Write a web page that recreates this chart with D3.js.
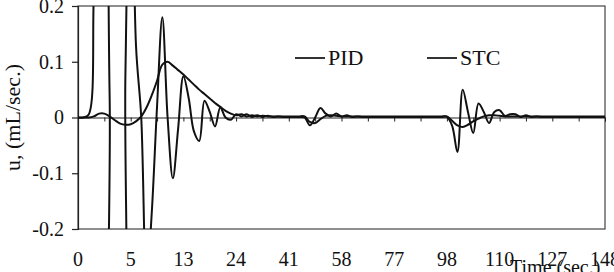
<!DOCTYPE html>
<html>
<head>
<meta charset="utf-8">
<script src="https://cdn.jsdelivr.net/npm/d3@7"></script>
<style>
  body { margin: 0; background: #fff; }
  text { font-family: "Liberation Serif", "DejaVu Serif", serif; fill: #111; }
</style>
</head>
<body>
<div id="chart"></div>
<script>
// tick labels on the category axis (time, sec.)
const timeLabels = ["0", "5", "13", "24", "41", "58", "77", "98", "110", "127", "148"];

// control signal (101 samples)
const pid = [
  0, 0, 0, 0.002, 0.007, 0.007, 0.002, -0.005, -0.011, -0.013,
  -0.012, -0.007, 0.002, 0.018, 0.04, 0.066, 0.095, 0.1, 0.093, 0.085,
  0.077, 0.068, 0.059, 0.05, 0.042, 0.034, 0.026, 0.019, 0.012, 0.007,
  0.004, 0.006, 0.002, 0.004, 0.002, 0.003, 0.002, 0.002, 0.002, 0.002,
  0.002, 0.002, 0.002, 0.002, -0.008, -0.01, -0.003, 0.003, 0.004, 0.003,
  0.002, 0.002, 0.002, 0.002, 0.002, 0.002, 0.002, 0.002, 0.002, 0.002,
  0.002, 0.002, 0.002, 0.002, 0.002, 0.002, 0.002, 0.002, 0.002, 0.002,
  0.002, -0.006, -0.014, -0.017, -0.013, -0.007, -0.002, 0.002, 0.004, 0.004,
  0.003, 0.002, 0.002, 0.002, 0.002, 0.002, 0.002, 0.002, 0.002, 0.002,
  0.002, 0.002, 0.002, 0.002, 0.002, 0.002, 0.002, 0.002, 0.002, 0.002,
  0.002
];

const stc = [
  0, 0, 0.005, 0.22, 0.5, 0.56, 0.04, -0.5, -0.5, 0.08,
  0.6, 0.13, 0, -0.3, -0.17, 0.02, 0.18, 0, -0.109, -0.02,
  0.074, 0.035, -0.025, -0.042, 0.03, 0.01, -0.016, 0.018, 0, -0.004,
  0.006, 0.002, 0.006, 0.001, 0.004, 0.001, 0.003, 0.001, 0.002, 0.001,
  0.001, 0.001, 0.001, 0, -0.014, 0, 0.017, 0.007, 0.002, 0.007,
  0.002, 0.004, 0.001, 0.002, 0.001, 0.001, 0.001, 0.001, 0.001, 0.001,
  0.001, 0.001, 0.001, 0.001, 0.001, 0.001, 0.001, 0.001, 0.001, 0.001,
  0.001, -0.015, -0.062, 0.05, 0.01, -0.028, 0.025, 0.01, -0.01, 0.01,
  0.013, 0.003, 0.006, 0.006, 0.001, 0.004, 0.001, 0.002, 0.001, 0.001,
  0.001, 0.001, 0.001, 0.001, 0.001, 0.001, 0.001, 0.001, 0.001, 0.001,
  0.001
];

const yTicks = [-0.2, -0.1, 0, 0.1, 0.2];

const width = 614, height = 272;
const margin = { top: 6, right: 9, bottom: 43, left: 78 };
const plotW = width - margin.left - margin.right,
      plotH = height - margin.top - margin.bottom;

const svg = d3.select("#chart")
    .append("svg")
    .attr("width", width)
    .attr("height", height);

const g = svg.append("g")
    .attr("transform", "translate(" + margin.left + "," + margin.top + ")");

const n = pid.length;
const x = d3.scaleLinear().domain([0, n - 1]).range([0, plotW]);
const y = d3.scaleLinear().domain([-0.2, 0.2]).range([plotH, 0]);

// clip lines to plot area
g.append("clipPath").attr("id", "clip")
    .append("rect").attr("width", plotW).attr("height", plotH);

// plot frame
g.append("rect")
    .attr("width", plotW)
    .attr("height", plotH)
    .attr("fill", "none")
    .attr("stroke", "#444")
    .attr("stroke-width", 1.2);

// y axis (plain hyphen for negatives, like the original)
const yAxis = g.append("g")
    .call(d3.axisLeft(y).tickValues(yTicks).tickSize(6).tickPadding(8)
        .tickFormat(d => d === 0 ? "0" : d.toFixed(1)));
yAxis.select(".domain").attr("stroke", "#222").attr("stroke-width", 1.2);
yAxis.selectAll(".tick line").attr("stroke", "#222").attr("stroke-width", 1.2);
yAxis.selectAll("text").style("font-size", "20px").attr("fill", "#111");

// x axis on the zero line, ticks every 5 samples
const xAxis = g.append("g")
    .attr("transform", "translate(0," + y(0) + ")")
    .call(d3.axisBottom(x).tickValues(d3.range(0, n, 5)).tickSize(4).tickFormat(""));
xAxis.select(".domain").attr("stroke", "#222");
xAxis.selectAll(".tick line").attr("stroke", "#222");

// category labels at the bottom, every 10 samples
g.append("g")
    .selectAll("text")
    .data(timeLabels)
    .enter().append("text")
    .attr("x", (d, i) => x(i * 10))
    .attr("y", plotH + 37)
    .attr("text-anchor", "middle")
    .style("font-size", "20px")
    .text(d => d);

const line = d3.line()
    .x((d, i) => x(i))
    .y(d => y(d))
    .curve(d3.curveCatmullRom.alpha(0.5));

const lines = g.append("g").attr("clip-path", "url(#clip)");
[pid, stc].forEach(series => {
    lines.append("path")
        .datum(series)
        .attr("fill", "none")
        .attr("stroke", "#111")
        .attr("stroke-width", 2)
        .attr("d", line);
});

// legend
const legend = [{ name: "PID", x: 217 }, { name: "STC", x: 349 }];
const lg = g.selectAll(".legend")
    .data(legend)
    .enter().append("g")
    .attr("class", "legend")
    .attr("transform", d => "translate(" + d.x + ",52)");
lg.append("line")
    .attr("x1", 0).attr("x2", 30)
    .attr("stroke", "#333").attr("stroke-width", 2);
lg.append("text")
    .attr("x", 33)
    .attr("y", 7)
    .style("font-size", "22px")
    .text(d => d.name);

// axis titles
svg.append("text")
    .attr("transform", "translate(20," + (margin.top + plotH / 2) + ") rotate(-90)")
    .attr("text-anchor", "middle")
    .style("font-size", "22px")
    .text("u, (mL/sec.)");

svg.append("text")
    .attr("x", 510)
    .attr("y", 274)
    .style("font-size", "20px")
    .text("Time (sec.)");
</script>
</body>
</html>
